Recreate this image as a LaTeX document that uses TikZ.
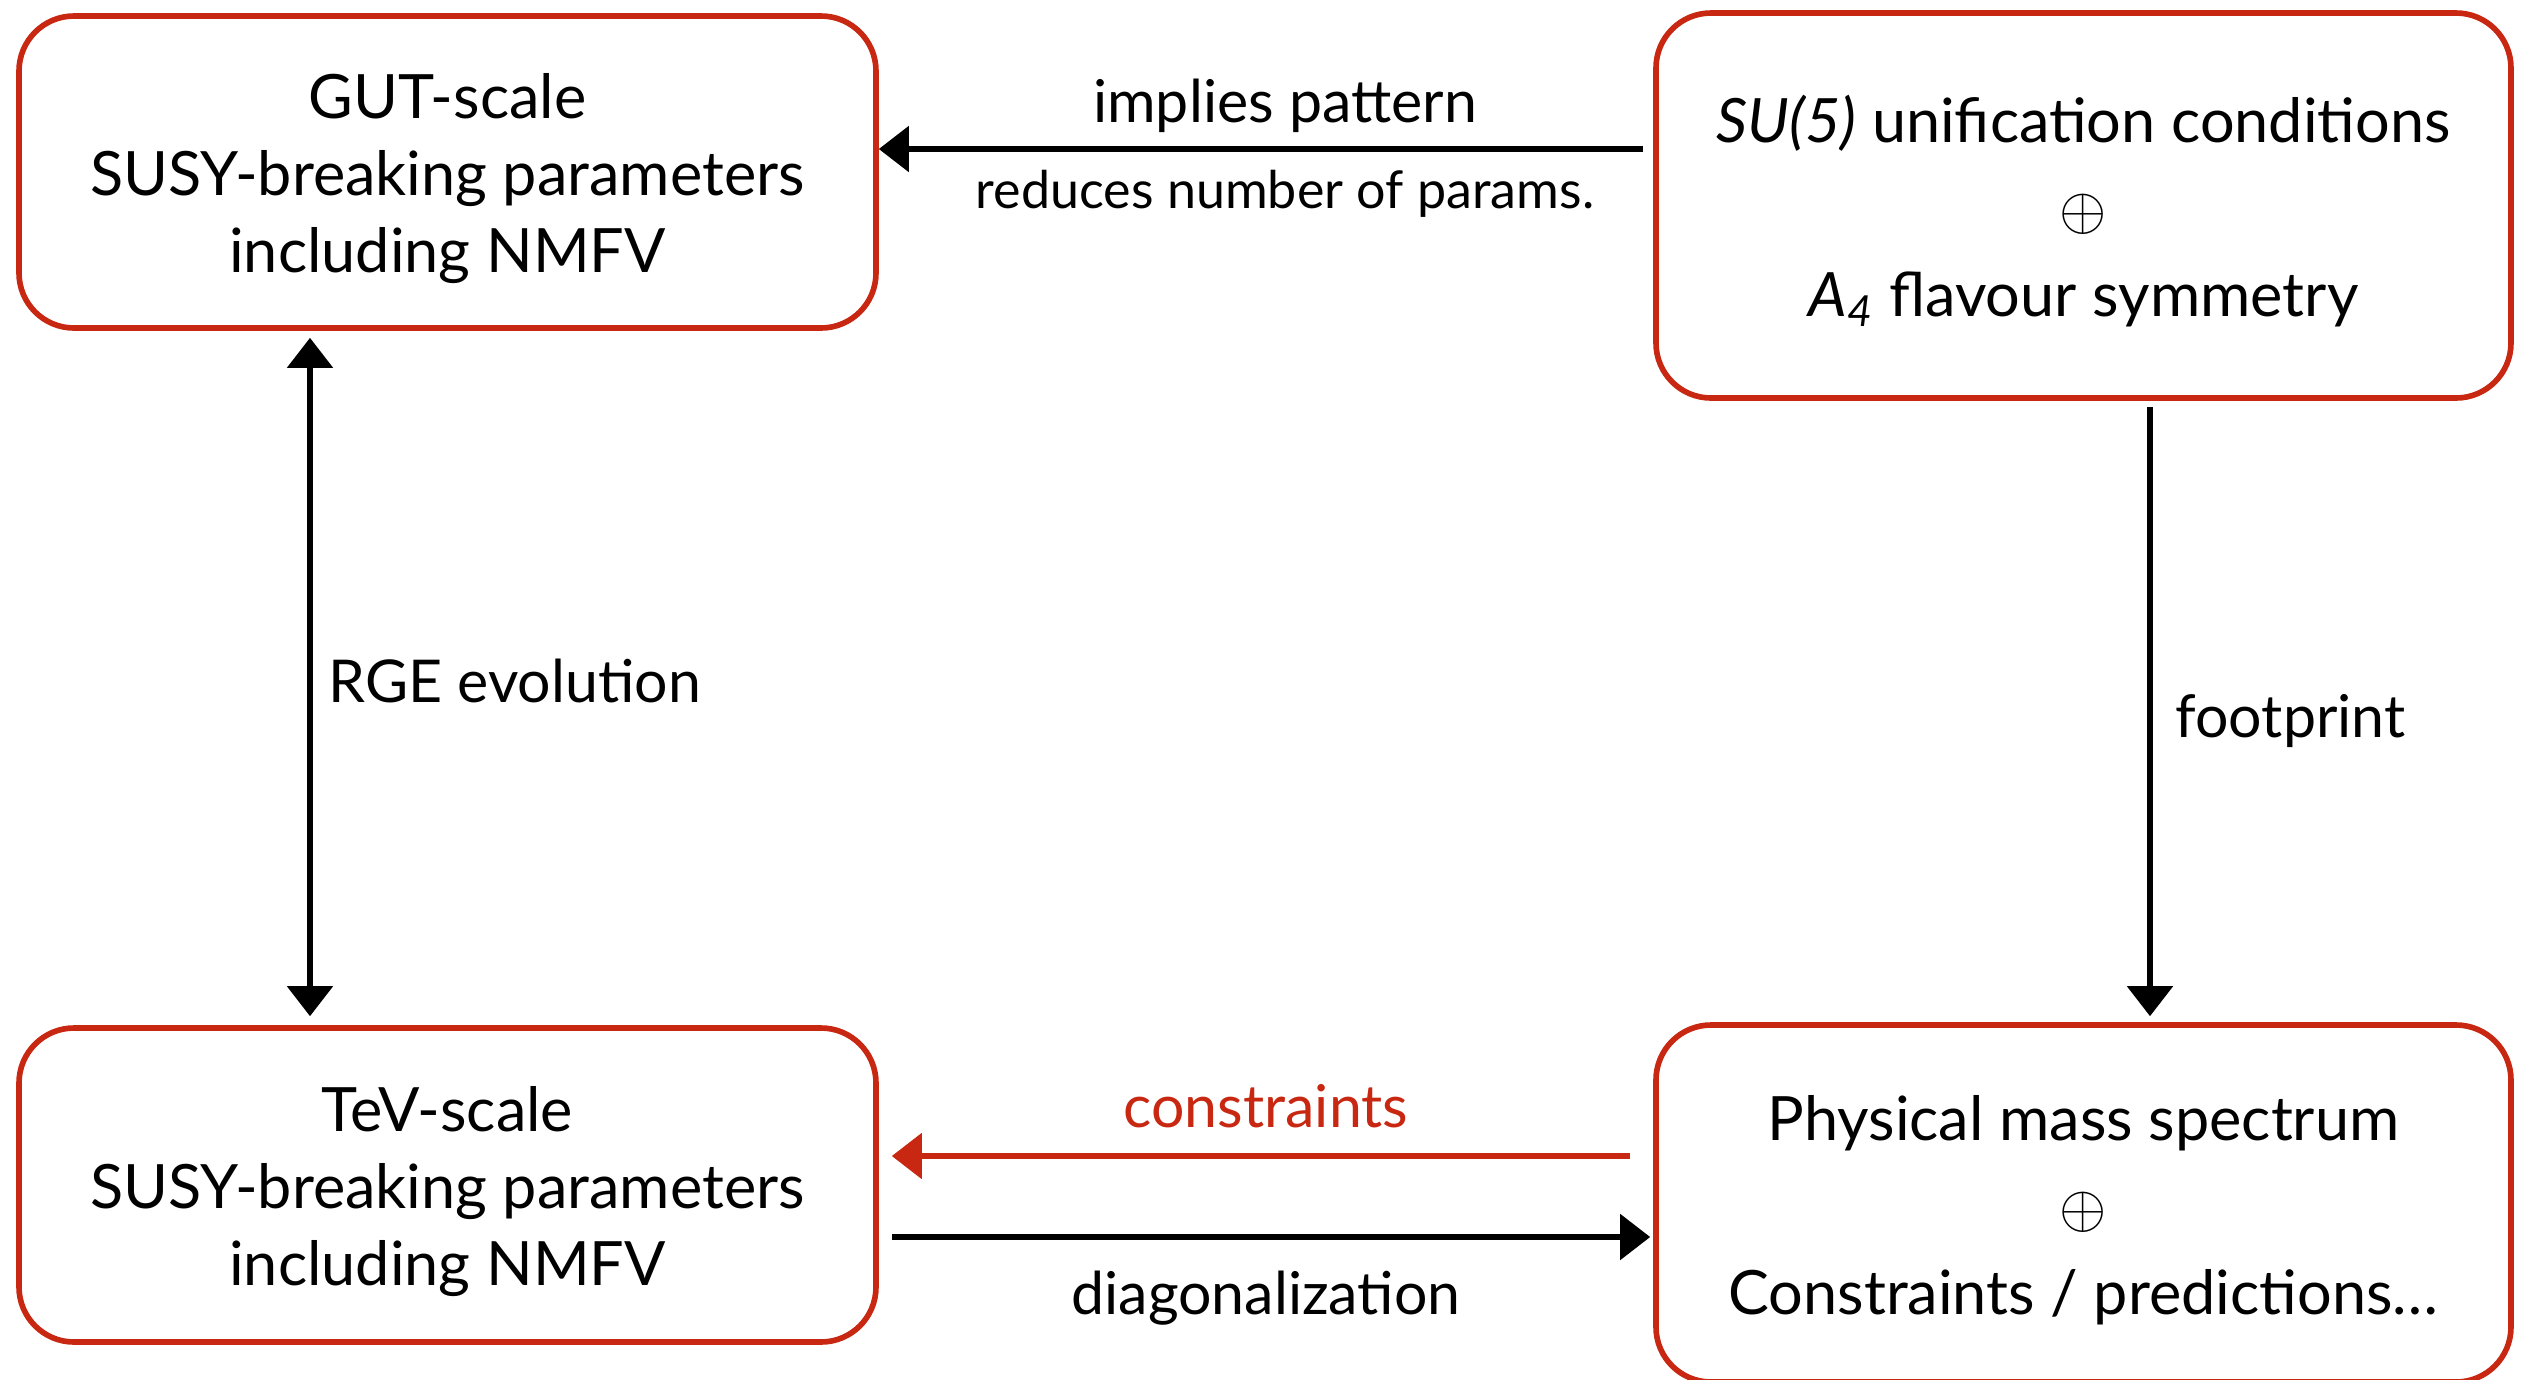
\documentclass[tikz,border=0pt]{standalone}
\usepackage{fontspec}
\setmainfont{Lato}
\usetikzlibrary{arrows.meta,positioning}
\definecolor{sketchred}{RGB}{200,40,18}
\newcommand{\boxstrut}{\rule{0pt}{16.6pt}}

\begin{document}
\begin{tikzpicture}[>={Triangle[length=3mm,width=4.5mm]},
  box/.style={draw=sketchred, line width=1.6pt, rounded corners=0.55cm,
    align=center, inner sep=0pt, font=\fontsize{17.4}{21.8}\selectfont},
  flow/.style={->, line width=1.5pt},
  lbl/.style={font=\fontsize{16.8}{20}\selectfont}]

  \useasboundingbox (0,0) rectangle (25.36,-13.79);

  % The four boxes
  \node[box, minimum width=8.57cm, minimum height=3.12cm] (gut) at (4.475,-1.72)
    {\boxstrut GUT-scale\\SUSY-breaking parameters\\including NMFV};
  \node[box, minimum width=8.55cm, minimum height=3.85cm] (su5) at (20.835,-2.055)
    {\boxstrut\textit{SU(5)} unification conditions\\[3pt]$\oplus$\\[3pt]\textit{A\textsubscript{4}} flavour symmetry};
  \node[box, minimum width=8.57cm, minimum height=3.14cm] (tev) at (4.475,-11.85)
    {\boxstrut TeV-scale\\SUSY-breaking parameters\\including NMFV};
  \node[box, minimum width=8.55cm, minimum height=3.57cm] (phys) at (20.835,-12.035)
    {\boxstrut Physical mass spectrum\\[3pt]$\oplus$\\[3pt]Constraints / predictions\dots};

  % Top: symmetry -> GUT parameters
  \draw[flow, shorten <=0.1cm] (su5.west |- 0,-1.49) -- (gut.east |- 0,-1.49);
  \node[lbl] (implies) at (12.85,-1.06) {implies pattern};
  \node[font=\fontsize{14.8}{18}\selectfont] (reduces) at (12.85,-1.94) {reduces number of params.};

  % Left: running between the scales
  \draw[flow, <->, shorten <=0.07cm, shorten >=0.09cm] (gut.south -| 3.10,0) -- (tev.north -| 3.10,0);
  \node[lbl, anchor=west, inner sep=0pt] (rge) at (3.28,-6.81) {RGE evolution};

  % Right: footprint on the spectrum
  \draw[flow, shorten <=0.06cm, shorten >=0.06cm] (su5.south -| 21.50,0) -- (phys.north -| 21.50,0);
  \node[lbl, anchor=west, inner sep=0pt] (foot) at (21.75,-7.21) {footprint};

  % Bottom: spectrum <-> TeV parameters
  \draw[flow, sketchred, shorten <=0.23cm, shorten >=0.13cm] (phys.west |- 0,-11.56) -- (tev.east |- 0,-11.56);
  \node[lbl, text=sketchred] (constr) at (12.66,-11.06) {constraints};
  \draw[flow, shorten <=0.13cm, shorten >=0.03cm] (tev.east |- 0,-12.37) -- (phys.west |- 0,-12.37);
  \node[lbl] (diag) at (12.66,-12.98) {diagonalization};

\end{tikzpicture}
\end{document}
